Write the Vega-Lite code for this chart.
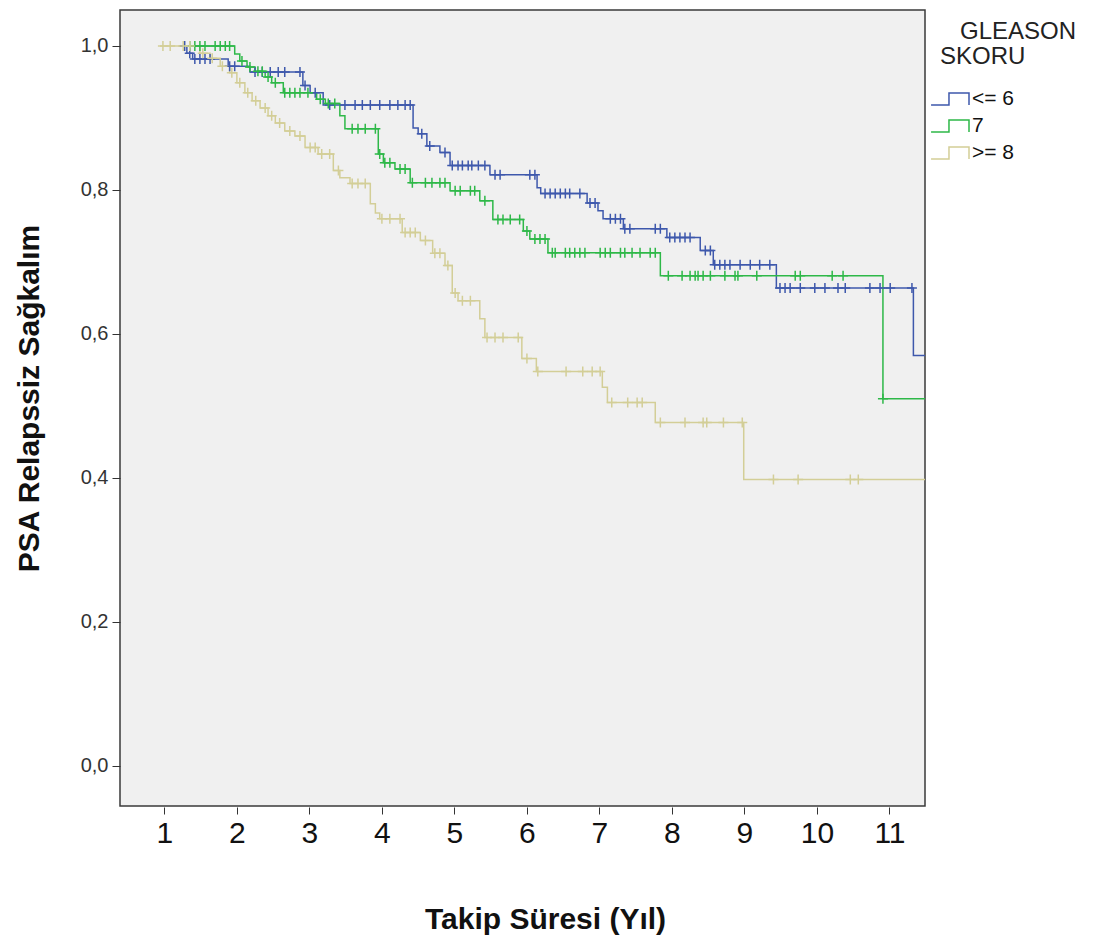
{
  "$schema": "https://vega.github.io/schema/vega-lite/v6.json",
  "width": 805,
  "height": 796,
  "autosize": {"type": "none"},
  "padding": {"left": 120, "top": 10, "right": 181, "bottom": 135},
  "background": "white",
  "config": {
    "font": "Liberation Sans",
    "view": {"fill": "#F0F0F0", "stroke": "#3a3a3a", "strokeWidth": 1.5},
    "axis": {"grid": false, "domain": false, "tickColor": "#333333", "labelColor": "#111111", "titleColor": "#111111"}
  },
  "datasets": {
    "steps": [
      {"g": "<= 6", "t": 1.24, "s": 1.0}, {"g": "<= 6", "t": 1.31, "s": 0.990}, {"g": "<= 6", "t": 1.39, "s": 0.982}, {"g": "<= 6", "t": 1.88, "s": 0.972}, {"g": "<= 6", "t": 2.18, "s": 0.964}, {"g": "<= 6", "t": 2.91, "s": 0.945}, {"g": "<= 6", "t": 3.01, "s": 0.935}, {"g": "<= 6", "t": 3.19, "s": 0.918}, {"g": "<= 6", "t": 4.43, "s": 0.886}, {"g": "<= 6", "t": 4.50, "s": 0.878}, {"g": "<= 6", "t": 4.62, "s": 0.861}, {"g": "<= 6", "t": 4.80, "s": 0.852}, {"g": "<= 6", "t": 4.94, "s": 0.834}, {"g": "<= 6", "t": 5.49, "s": 0.821}, {"g": "<= 6", "t": 6.14, "s": 0.803}, {"g": "<= 6", "t": 6.19, "s": 0.795}, {"g": "<= 6", "t": 6.83, "s": 0.782}, {"g": "<= 6", "t": 6.98, "s": 0.771}, {"g": "<= 6", "t": 7.05, "s": 0.760}, {"g": "<= 6", "t": 7.33, "s": 0.746}, {"g": "<= 6", "t": 7.93, "s": 0.734}, {"g": "<= 6", "t": 8.39, "s": 0.716}, {"g": "<= 6", "t": 8.57, "s": 0.696}, {"g": "<= 6", "t": 9.44, "s": 0.664}, {"g": "<= 6", "t": 11.33, "s": 0.570}, {"g": "<= 6", "t": 11.49, "s": 0.570},
      {"g": "7", "t": 1.25, "s": 1.0}, {"g": "7", "t": 1.97, "s": 0.989}, {"g": "7", "t": 2.04, "s": 0.979}, {"g": "7", "t": 2.14, "s": 0.971}, {"g": "7", "t": 2.25, "s": 0.965}, {"g": "7", "t": 2.39, "s": 0.957}, {"g": "7", "t": 2.48, "s": 0.949}, {"g": "7", "t": 2.64, "s": 0.935}, {"g": "7", "t": 3.10, "s": 0.926}, {"g": "7", "t": 3.22, "s": 0.920}, {"g": "7", "t": 3.42, "s": 0.903}, {"g": "7", "t": 3.49, "s": 0.885}, {"g": "7", "t": 3.95, "s": 0.850}, {"g": "7", "t": 4.02, "s": 0.838}, {"g": "7", "t": 4.18, "s": 0.829}, {"g": "7", "t": 4.39, "s": 0.810}, {"g": "7", "t": 4.94, "s": 0.799}, {"g": "7", "t": 5.35, "s": 0.785}, {"g": "7", "t": 5.53, "s": 0.759}, {"g": "7", "t": 5.95, "s": 0.743}, {"g": "7", "t": 6.04, "s": 0.732}, {"g": "7", "t": 6.29, "s": 0.713}, {"g": "7", "t": 7.84, "s": 0.681}, {"g": "7", "t": 10.91, "s": 0.510}, {"g": "7", "t": 11.49, "s": 0.510},
      {"g": ">= 8", "t": 0.94, "s": 1.0}, {"g": ">= 8", "t": 1.49, "s": 0.990}, {"g": ">= 8", "t": 1.63, "s": 0.983}, {"g": ">= 8", "t": 1.77, "s": 0.972}, {"g": ">= 8", "t": 1.90, "s": 0.963}, {"g": ">= 8", "t": 2.00, "s": 0.949}, {"g": ">= 8", "t": 2.11, "s": 0.935}, {"g": ">= 8", "t": 2.21, "s": 0.924}, {"g": ">= 8", "t": 2.32, "s": 0.914}, {"g": ">= 8", "t": 2.43, "s": 0.903}, {"g": ">= 8", "t": 2.53, "s": 0.893}, {"g": ">= 8", "t": 2.66, "s": 0.882}, {"g": ">= 8", "t": 2.80, "s": 0.875}, {"g": ">= 8", "t": 2.94, "s": 0.859}, {"g": ">= 8", "t": 3.12, "s": 0.850}, {"g": ">= 8", "t": 3.33, "s": 0.827}, {"g": ">= 8", "t": 3.42, "s": 0.817}, {"g": ">= 8", "t": 3.56, "s": 0.809}, {"g": ">= 8", "t": 3.84, "s": 0.781}, {"g": ">= 8", "t": 3.91, "s": 0.768}, {"g": ">= 8", "t": 3.97, "s": 0.760}, {"g": ">= 8", "t": 4.28, "s": 0.741}, {"g": ">= 8", "t": 4.53, "s": 0.730}, {"g": ">= 8", "t": 4.70, "s": 0.712}, {"g": ">= 8", "t": 4.87, "s": 0.695}, {"g": ">= 8", "t": 4.97, "s": 0.657}, {"g": ">= 8", "t": 5.05, "s": 0.646}, {"g": ">= 8", "t": 5.35, "s": 0.621}, {"g": ">= 8", "t": 5.42, "s": 0.595}, {"g": ">= 8", "t": 5.93, "s": 0.566}, {"g": ">= 8", "t": 6.13, "s": 0.548}, {"g": ">= 8", "t": 7.04, "s": 0.526}, {"g": ">= 8", "t": 7.11, "s": 0.505}, {"g": ">= 8", "t": 7.77, "s": 0.477}, {"g": ">= 8", "t": 8.99, "s": 0.398}, {"g": ">= 8", "t": 11.49, "s": 0.398}
    ],
    "cens": [
      {"g": "<= 6", "t": 1.28, "s": 1.0}, {"g": "<= 6", "t": 1.35, "s": 0.990}, {"g": "<= 6", "t": 1.42, "s": 0.982}, {"g": "<= 6", "t": 1.49, "s": 0.982}, {"g": "<= 6", "t": 1.56, "s": 0.982}, {"g": "<= 6", "t": 1.63, "s": 0.982}, {"g": "<= 6", "t": 1.90, "s": 0.972}, {"g": "<= 6", "t": 1.97, "s": 0.972}, {"g": "<= 6", "t": 2.25, "s": 0.964}, {"g": "<= 6", "t": 2.35, "s": 0.964}, {"g": "<= 6", "t": 2.46, "s": 0.964}, {"g": "<= 6", "t": 2.57, "s": 0.964}, {"g": "<= 6", "t": 2.66, "s": 0.964}, {"g": "<= 6", "t": 2.87, "s": 0.964}, {"g": "<= 6", "t": 2.94, "s": 0.945}, {"g": "<= 6", "t": 3.08, "s": 0.935}, {"g": "<= 6", "t": 3.28, "s": 0.918}, {"g": "<= 6", "t": 3.49, "s": 0.918}, {"g": "<= 6", "t": 3.63, "s": 0.918}, {"g": "<= 6", "t": 3.73, "s": 0.918}, {"g": "<= 6", "t": 3.84, "s": 0.918}, {"g": "<= 6", "t": 3.97, "s": 0.918}, {"g": "<= 6", "t": 4.11, "s": 0.918}, {"g": "<= 6", "t": 4.22, "s": 0.918}, {"g": "<= 6", "t": 4.32, "s": 0.918}, {"g": "<= 6", "t": 4.39, "s": 0.918}, {"g": "<= 6", "t": 4.55, "s": 0.878}, {"g": "<= 6", "t": 4.66, "s": 0.861}, {"g": "<= 6", "t": 4.87, "s": 0.852}, {"g": "<= 6", "t": 4.97, "s": 0.834}, {"g": "<= 6", "t": 5.05, "s": 0.834}, {"g": "<= 6", "t": 5.11, "s": 0.834}, {"g": "<= 6", "t": 5.19, "s": 0.834}, {"g": "<= 6", "t": 5.24, "s": 0.834}, {"g": "<= 6", "t": 5.33, "s": 0.834}, {"g": "<= 6", "t": 5.42, "s": 0.834}, {"g": "<= 6", "t": 5.56, "s": 0.821}, {"g": "<= 6", "t": 5.63, "s": 0.821}, {"g": "<= 6", "t": 6.04, "s": 0.821}, {"g": "<= 6", "t": 6.11, "s": 0.821}, {"g": "<= 6", "t": 6.25, "s": 0.795}, {"g": "<= 6", "t": 6.32, "s": 0.795}, {"g": "<= 6", "t": 6.39, "s": 0.795}, {"g": "<= 6", "t": 6.46, "s": 0.795}, {"g": "<= 6", "t": 6.53, "s": 0.795}, {"g": "<= 6", "t": 6.59, "s": 0.795}, {"g": "<= 6", "t": 6.73, "s": 0.795}, {"g": "<= 6", "t": 6.87, "s": 0.782}, {"g": "<= 6", "t": 6.94, "s": 0.782}, {"g": "<= 6", "t": 7.15, "s": 0.760}, {"g": "<= 6", "t": 7.22, "s": 0.760}, {"g": "<= 6", "t": 7.29, "s": 0.760}, {"g": "<= 6", "t": 7.35, "s": 0.746}, {"g": "<= 6", "t": 7.42, "s": 0.746}, {"g": "<= 6", "t": 7.77, "s": 0.746}, {"g": "<= 6", "t": 7.84, "s": 0.746}, {"g": "<= 6", "t": 7.97, "s": 0.734}, {"g": "<= 6", "t": 8.04, "s": 0.734}, {"g": "<= 6", "t": 8.11, "s": 0.734}, {"g": "<= 6", "t": 8.18, "s": 0.734}, {"g": "<= 6", "t": 8.25, "s": 0.734}, {"g": "<= 6", "t": 8.46, "s": 0.716}, {"g": "<= 6", "t": 8.53, "s": 0.716}, {"g": "<= 6", "t": 8.59, "s": 0.696}, {"g": "<= 6", "t": 8.66, "s": 0.696}, {"g": "<= 6", "t": 8.73, "s": 0.696}, {"g": "<= 6", "t": 8.80, "s": 0.696}, {"g": "<= 6", "t": 8.94, "s": 0.696}, {"g": "<= 6", "t": 9.08, "s": 0.696}, {"g": "<= 6", "t": 9.21, "s": 0.696}, {"g": "<= 6", "t": 9.35, "s": 0.696}, {"g": "<= 6", "t": 9.49, "s": 0.664}, {"g": "<= 6", "t": 9.56, "s": 0.664}, {"g": "<= 6", "t": 9.63, "s": 0.664}, {"g": "<= 6", "t": 9.77, "s": 0.664}, {"g": "<= 6", "t": 9.97, "s": 0.664}, {"g": "<= 6", "t": 10.11, "s": 0.664}, {"g": "<= 6", "t": 10.29, "s": 0.664}, {"g": "<= 6", "t": 10.39, "s": 0.664}, {"g": "<= 6", "t": 10.73, "s": 0.664}, {"g": "<= 6", "t": 10.87, "s": 0.664}, {"g": "<= 6", "t": 11.01, "s": 0.664}, {"g": "<= 6", "t": 11.31, "s": 0.664},
      {"g": "7", "t": 1.35, "s": 1.0}, {"g": "7", "t": 1.42, "s": 1.0}, {"g": "7", "t": 1.49, "s": 1.0}, {"g": "7", "t": 1.56, "s": 1.0}, {"g": "7", "t": 1.70, "s": 1.0}, {"g": "7", "t": 1.77, "s": 1.0}, {"g": "7", "t": 1.84, "s": 1.0}, {"g": "7", "t": 1.90, "s": 1.0}, {"g": "7", "t": 2.07, "s": 0.979}, {"g": "7", "t": 2.18, "s": 0.971}, {"g": "7", "t": 2.29, "s": 0.965}, {"g": "7", "t": 2.35, "s": 0.965}, {"g": "7", "t": 2.43, "s": 0.957}, {"g": "7", "t": 2.53, "s": 0.949}, {"g": "7", "t": 2.66, "s": 0.935}, {"g": "7", "t": 2.73, "s": 0.935}, {"g": "7", "t": 2.80, "s": 0.935}, {"g": "7", "t": 2.87, "s": 0.935}, {"g": "7", "t": 2.98, "s": 0.935}, {"g": "7", "t": 3.15, "s": 0.926}, {"g": "7", "t": 3.26, "s": 0.920}, {"g": "7", "t": 3.35, "s": 0.920}, {"g": "7", "t": 3.59, "s": 0.885}, {"g": "7", "t": 3.67, "s": 0.885}, {"g": "7", "t": 3.77, "s": 0.885}, {"g": "7", "t": 3.91, "s": 0.885}, {"g": "7", "t": 3.97, "s": 0.850}, {"g": "7", "t": 4.04, "s": 0.838}, {"g": "7", "t": 4.11, "s": 0.838}, {"g": "7", "t": 4.25, "s": 0.829}, {"g": "7", "t": 4.32, "s": 0.829}, {"g": "7", "t": 4.42, "s": 0.810}, {"g": "7", "t": 4.60, "s": 0.810}, {"g": "7", "t": 4.69, "s": 0.810}, {"g": "7", "t": 4.80, "s": 0.810}, {"g": "7", "t": 4.87, "s": 0.810}, {"g": "7", "t": 5.01, "s": 0.799}, {"g": "7", "t": 5.08, "s": 0.799}, {"g": "7", "t": 5.22, "s": 0.799}, {"g": "7", "t": 5.28, "s": 0.799}, {"g": "7", "t": 5.42, "s": 0.785}, {"g": "7", "t": 5.60, "s": 0.759}, {"g": "7", "t": 5.67, "s": 0.759}, {"g": "7", "t": 5.77, "s": 0.759}, {"g": "7", "t": 5.90, "s": 0.759}, {"g": "7", "t": 6.00, "s": 0.743}, {"g": "7", "t": 6.11, "s": 0.732}, {"g": "7", "t": 6.18, "s": 0.732}, {"g": "7", "t": 6.25, "s": 0.732}, {"g": "7", "t": 6.35, "s": 0.713}, {"g": "7", "t": 6.39, "s": 0.713}, {"g": "7", "t": 6.53, "s": 0.713}, {"g": "7", "t": 6.59, "s": 0.713}, {"g": "7", "t": 6.66, "s": 0.713}, {"g": "7", "t": 6.73, "s": 0.713}, {"g": "7", "t": 6.80, "s": 0.713}, {"g": "7", "t": 7.01, "s": 0.713}, {"g": "7", "t": 7.08, "s": 0.713}, {"g": "7", "t": 7.15, "s": 0.713}, {"g": "7", "t": 7.29, "s": 0.713}, {"g": "7", "t": 7.35, "s": 0.713}, {"g": "7", "t": 7.45, "s": 0.713}, {"g": "7", "t": 7.56, "s": 0.713}, {"g": "7", "t": 7.70, "s": 0.713}, {"g": "7", "t": 7.77, "s": 0.713}, {"g": "7", "t": 7.95, "s": 0.681}, {"g": "7", "t": 8.14, "s": 0.681}, {"g": "7", "t": 8.25, "s": 0.681}, {"g": "7", "t": 8.32, "s": 0.681}, {"g": "7", "t": 8.36, "s": 0.681}, {"g": "7", "t": 8.43, "s": 0.681}, {"g": "7", "t": 8.53, "s": 0.681}, {"g": "7", "t": 8.73, "s": 0.681}, {"g": "7", "t": 8.87, "s": 0.681}, {"g": "7", "t": 8.91, "s": 0.681}, {"g": "7", "t": 9.17, "s": 0.681}, {"g": "7", "t": 9.70, "s": 0.681}, {"g": "7", "t": 9.77, "s": 0.681}, {"g": "7", "t": 10.21, "s": 0.681}, {"g": "7", "t": 10.36, "s": 0.681}, {"g": "7", "t": 10.91, "s": 0.510},
      {"g": ">= 8", "t": 0.98, "s": 1.0}, {"g": ">= 8", "t": 1.08, "s": 1.0}, {"g": ">= 8", "t": 1.26, "s": 1.0}, {"g": ">= 8", "t": 1.35, "s": 1.0}, {"g": ">= 8", "t": 1.53, "s": 0.990}, {"g": ">= 8", "t": 1.66, "s": 0.983}, {"g": ">= 8", "t": 1.80, "s": 0.972}, {"g": ">= 8", "t": 1.93, "s": 0.963}, {"g": ">= 8", "t": 2.04, "s": 0.949}, {"g": ">= 8", "t": 2.15, "s": 0.935}, {"g": ">= 8", "t": 2.26, "s": 0.924}, {"g": ">= 8", "t": 2.39, "s": 0.914}, {"g": ">= 8", "t": 2.48, "s": 0.903}, {"g": ">= 8", "t": 2.59, "s": 0.893}, {"g": ">= 8", "t": 2.73, "s": 0.882}, {"g": ">= 8", "t": 2.87, "s": 0.875}, {"g": ">= 8", "t": 3.01, "s": 0.859}, {"g": ">= 8", "t": 3.08, "s": 0.859}, {"g": ">= 8", "t": 3.17, "s": 0.850}, {"g": ">= 8", "t": 3.28, "s": 0.850}, {"g": ">= 8", "t": 3.40, "s": 0.827}, {"g": ">= 8", "t": 3.59, "s": 0.809}, {"g": ">= 8", "t": 3.67, "s": 0.809}, {"g": ">= 8", "t": 3.77, "s": 0.809}, {"g": ">= 8", "t": 4.00, "s": 0.760}, {"g": ">= 8", "t": 4.11, "s": 0.760}, {"g": ">= 8", "t": 4.25, "s": 0.760}, {"g": ">= 8", "t": 4.32, "s": 0.741}, {"g": ">= 8", "t": 4.39, "s": 0.741}, {"g": ">= 8", "t": 4.46, "s": 0.741}, {"g": ">= 8", "t": 4.60, "s": 0.730}, {"g": ">= 8", "t": 4.73, "s": 0.712}, {"g": ">= 8", "t": 4.80, "s": 0.712}, {"g": ">= 8", "t": 4.91, "s": 0.695}, {"g": ">= 8", "t": 5.01, "s": 0.657}, {"g": ">= 8", "t": 5.11, "s": 0.646}, {"g": ">= 8", "t": 5.22, "s": 0.646}, {"g": ">= 8", "t": 5.45, "s": 0.595}, {"g": ">= 8", "t": 5.56, "s": 0.595}, {"g": ">= 8", "t": 5.67, "s": 0.595}, {"g": ">= 8", "t": 5.88, "s": 0.595}, {"g": ">= 8", "t": 6.00, "s": 0.566}, {"g": ">= 8", "t": 6.15, "s": 0.548}, {"g": ">= 8", "t": 6.54, "s": 0.548}, {"g": ">= 8", "t": 6.77, "s": 0.548}, {"g": ">= 8", "t": 6.90, "s": 0.548}, {"g": ">= 8", "t": 7.01, "s": 0.548}, {"g": ">= 8", "t": 7.17, "s": 0.505}, {"g": ">= 8", "t": 7.39, "s": 0.505}, {"g": ">= 8", "t": 7.52, "s": 0.505}, {"g": ">= 8", "t": 7.59, "s": 0.505}, {"g": ">= 8", "t": 7.84, "s": 0.477}, {"g": ">= 8", "t": 8.18, "s": 0.477}, {"g": ">= 8", "t": 8.43, "s": 0.477}, {"g": ">= 8", "t": 8.48, "s": 0.477}, {"g": ">= 8", "t": 8.71, "s": 0.477}, {"g": ">= 8", "t": 8.97, "s": 0.477}, {"g": ">= 8", "t": 9.40, "s": 0.398}, {"g": ">= 8", "t": 9.74, "s": 0.398}, {"g": ">= 8", "t": 10.46, "s": 0.398}, {"g": ">= 8", "t": 10.57, "s": 0.398}
    ]
  },
  "encoding": {
    "x": {
      "field": "t", "type": "quantitative",
      "scale": {"domain": [0.388, 11.49], "nice": false, "zero": false},
      "axis": {
        "values": [1, 2, 3, 4, 5, 6, 7, 8, 9, 10, 11],
        "tickSize": 7, "offset": 1, "labelFontSize": 30, "labelPadding": 4, "labelFlush": false,
        "title": "Takip Süresi (Yıl)", "titleFontSize": 30, "titleFontWeight": "bold",
        "titleX": 425, "titleY": 121, "titleAlign": "center", "titleBaseline": "alphabetic"
      }
    },
    "y": {
      "field": "s", "type": "quantitative",
      "scale": {"domain": [-0.0556, 1.05], "nice": false, "zero": false},
      "axis": {
        "values": [0, 0.2, 0.4, 0.6, 0.8, 1.0],
        "labelExpr": "replace(format(datum.value, '.1f'), '.', ',')",
        "tickSize": 8, "labelFontSize": 20, "labelPadding": 4, "labelColor": "#333333",
        "title": "PSA Relapssiz Sağkalım", "titleFontSize": 30, "titleFontWeight": "bold",
        "titleAngle": -90, "titleX": -82, "titleY": 388, "titleAlign": "center", "titleBaseline": "alphabetic"
      }
    },
    "color": {
      "field": "g", "type": "nominal",
      "scale": {"domain": ["<= 6", "7", ">= 8"], "range": ["#3E58AC", "#2EB848", "#D3CE97"]},
      "legend": {
        "orient": "none", "legendX": 820, "legendY": 10,
        "title": ["\u200b\u2002\u2005\u200aGLEASON", "SKORU"],
        "titleFontSize": 24, "titleFontWeight": "normal", "titleColor": "#222222", "titleLineHeight": 25, "titlePadding": 15,
        "labelFontSize": 21, "labelColor": "#111111", "labelOffset": 2,
        "symbolType": "M-1.71,0.43L-0.43,0.43L-0.43,-0.43L1,-0.43L1,0.43",
        "symbolSize": 784, "symbolStrokeWidth": 1.5, "symbolFillColor": "transparent", "rowPadding": 2
      }
    }
  },
  "layer": [
    {
      "data": {"name": "steps"},
      "mark": {"type": "line", "interpolate": "step-after", "strokeWidth": 1.5}
    },
    {
      "data": {"name": "cens"},
      "mark": {"type": "point", "shape": "M-1,0L1,0M0,-1L0,1", "size": 100, "filled": false, "strokeWidth": 1.5, "opacity": 1}
    }
  ]
}
